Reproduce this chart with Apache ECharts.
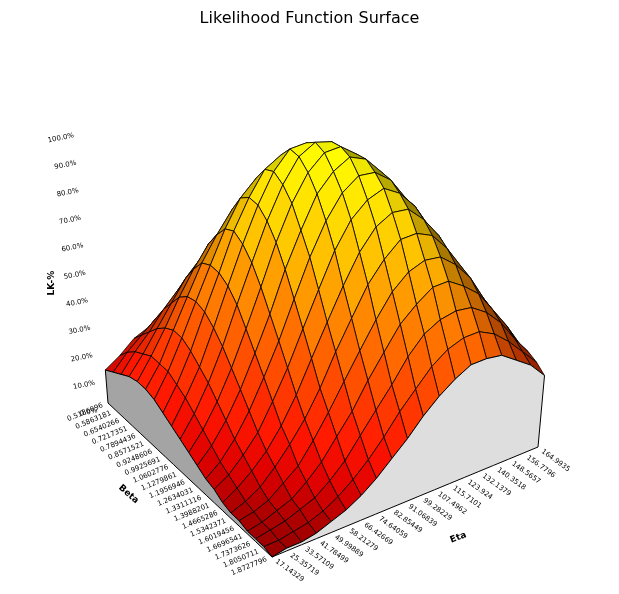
<!DOCTYPE html>
<html>
<head>
<meta charset="utf-8">
<title>Likelihood Function Surface</title>
<script src="https://cdn.jsdelivr.net/npm/echarts@6/dist/echarts.min.js"></script>
<style>
  html, body { margin: 0; padding: 0; background: #ffffff; }
  #chart { width: 619px; height: 594px; }
</style>
</head>
<body>
<div id="chart"></div>
<script>
// tick labels (digits are approximate)
var betaTicks = ['0.5186096', '0.5863181', '0.6540266', '0.7217351', '0.7894436', '0.8571521',
  '0.9248606', '0.9925691', '1.0602776', '1.1279861', '1.1956946', '1.2634031', '1.3311116',
  '1.3988201', '1.4665286', '1.5342371', '1.6019456', '1.6696541', '1.7373626', '1.8050711', '1.8727796'];
var etaTicks = ['17.14329', '25.35719', '33.57109', '41.78499', '49.99889', '58.21279', '66.42669',
  '74.64059', '82.85449', '91.06839', '99.28229', '107.4962', '115.7101', '123.924', '132.1379',
  '140.3518', '148.5657', '156.7796', '164.9935'];
var lkLevels = [0, 10, 20, 30, 40, 50, 60, 70, 80, 90, 100];
var lkTicks = ['0.0%', '10.0%', '20.0%', '30.0%', '40.0%', '50.0%', '60.0%', '70.0%', '80.0%', '90.0%', '100.0%'];

// LK-% : one row per beta tick, one column per eta tick
var likelihood = [
  [12, 15, 19, 21, 23, 24, 24, 23, 20, 17, 14, 11,  8,  5,  4,  2,  1,  1,  0],
  [14, 19, 23, 27, 30, 32, 33, 31, 28, 25, 20, 16, 12,  8,  6,  4,  2,  1,  1],
  [16, 22, 27, 33, 38, 41, 42, 41, 39, 34, 29, 23, 18, 13,  9,  6,  4,  2,  1],
  [18, 24, 31, 38, 45, 50, 52, 52, 50, 45, 39, 32, 25, 18, 13,  9,  5,  3,  2],
  [19, 26, 34, 43, 51, 58, 62, 64, 62, 57, 51, 42, 34, 25, 18, 12,  8,  5,  3],
  [19, 26, 36, 46, 56, 64, 71, 74, 74, 70, 63, 54, 43, 34, 25, 17, 11,  7,  4],
  [18, 26, 36, 47, 58, 69, 78, 83, 84, 81, 75, 65, 54, 43, 32, 23, 15, 10,  6],
  [16, 24, 34, 46, 58, 71, 81, 89, 92, 91, 85, 76, 64, 52, 40, 29, 20, 13,  8],
  [14, 22, 31, 43, 56, 69, 81, 91, 97, 97, 93, 85, 74, 61, 47, 35, 25, 17, 11],
  [12, 19, 28, 39, 52, 65, 78, 89, 97, 100, 98, 91, 81, 68, 54, 41, 30, 20, 13],
  [10, 16, 24, 34, 46, 59, 73, 85, 94, 99, 99, 94, 85, 73, 60, 46, 34, 24, 16],
  [ 8, 13, 20, 29, 40, 52, 66, 78, 89, 95, 98, 95, 88, 77, 64, 51, 38, 27, 19],
  [ 6, 10, 16, 24, 34, 45, 58, 71, 82, 90, 94, 93, 88, 79, 67, 55, 42, 31, 21],
  [ 5,  8, 13, 19, 28, 38, 50, 62, 74, 83, 88, 90, 86, 79, 69, 57, 45, 34, 24],
  [ 3,  6, 10, 15, 22, 31, 42, 53, 64, 74, 81, 84, 83, 77, 69, 58, 47, 36, 26],
  [ 2,  4,  7, 12, 18, 25, 34, 45, 55, 65, 72, 77, 77, 74, 67, 58, 48, 37, 28],
  [ 2,  3,  5,  9, 13, 20, 28, 37, 46, 55, 63, 68, 70, 69, 64, 57, 47, 38, 29],
  [ 1,  2,  4,  6, 10, 15, 22, 29, 38, 46, 54, 59, 63, 63, 59, 54, 46, 38, 29],
  [ 1,  2,  3,  5,  7, 11, 16, 23, 30, 37, 45, 51, 54, 55, 54, 50, 44, 36, 29],
  [ 1,  1,  2,  3,  5,  8, 12, 17, 23, 30, 36, 42, 46, 48, 48, 45, 40, 34, 28],
  [ 0,  1,  1,  2,  4,  6,  9, 13, 18, 23, 29, 34, 38, 41, 41, 40, 36, 32, 26]
];

var nb = betaTicks.length, ne = etaTicks.length;

// view of the box on a 619x594 plane (beta runs to the front, eta to the right)
var view = {
  origin: [108, 403],   // beta min / eta min corner
  beta: [164, 154],     // full beta edge
  eta: [266, -110],     // full eta edge
  zScale: 2.75,         // px per %
  lean: 0.11,           // verticals spread a bit going up
  centerX: 310
};
// same box in world units, for depth sort and light
var world = { beta: 1, eta: 1.0764, z: 1.1855 };
var eye = [0.651, -0.432];
var light = [0.4, -0.5, 0.78];

var heat = [
  [0, [150, 0, 0]], [10, [222, 0, 0]], [20, [255, 22, 0]], [35, [255, 72, 0]],
  [55, [255, 135, 0]], [72, [255, 192, 0]], [88, [255, 232, 0]], [100, [255, 255, 0]]
];

function project(s, t, z) {
  var bx = view.origin[0] + view.beta[0] * s + view.eta[0] * t;
  var by = view.origin[1] + view.beta[1] * s + view.eta[1] * t;
  return [bx + (bx - view.centerX) * view.lean * z / 100, by - view.zScale * z];
}

function gridPoint(api, i, j, z) {
  return api.coord(project(i / (nb - 1), j / (ne - 1), z === undefined ? likelihood[i][j] : z));
}

function worldPoint(i, j) {
  return [i / (nb - 1) * world.beta, j / (ne - 1) * world.eta, likelihood[i][j] / 100 * world.z];
}

function heatColor(z, k) {
  var n = 1;
  while (n < heat.length - 1 && z > heat[n][0]) n++;
  var a = heat[n - 1], b = heat[n];
  var f = Math.max(0, Math.min(1, (z - a[0]) / (b[0] - a[0])));
  var c = [0, 1, 2].map(function (q) {
    return Math.round((a[1][q] + (b[1][q] - a[1][q]) * f) * k);
  });
  return 'rgb(' + c.join(',') + ')';
}

// cells, drawn far to near
var cells = [];
for (var i = 0; i < nb - 1; i++) {
  for (var j = 0; j < ne - 1; j++) {
    var cs = (i + 0.5) / (nb - 1) * world.beta, ct = (j + 0.5) / (ne - 1) * world.eta;
    cells.push({ value: [i, j], depth: eye[0] * cs + eye[1] * ct });
  }
}
cells.sort(function (a, b) { return a.depth - b.depth; });
var cellData = cells.map(function (c) { return c.value; });

function renderCell(params, api) {
  var i = api.value(0), j = api.value(1);
  var p00 = worldPoint(i, j), p10 = worldPoint(i + 1, j), p11 = worldPoint(i + 1, j + 1), p01 = worldPoint(i, j + 1);
  var a = [p11[0] - p00[0], p11[1] - p00[1], p11[2] - p00[2]];
  var b = [p01[0] - p10[0], p01[1] - p10[1], p01[2] - p10[2]];
  var n = [a[1] * b[2] - a[2] * b[1], a[2] * b[0] - a[0] * b[2], a[0] * b[1] - a[1] * b[0]];
  var nl = Math.sqrt(n[0] * n[0] + n[1] * n[1] + n[2] * n[2]);
  var ll = Math.sqrt(light[0] * light[0] + light[1] * light[1] + light[2] * light[2]);
  var dot = (n[0] * light[0] + n[1] * light[1] + n[2] * light[2]) / nl / ll;
  var k = Math.max(0.4, Math.min(1, 0.42 + 0.78 * dot));
  var zAvg = (likelihood[i][j] + likelihood[i + 1][j] + likelihood[i + 1][j + 1] + likelihood[i][j + 1]) / 4;
  return {
    type: 'polygon',
    shape: { points: [gridPoint(api, i, j), gridPoint(api, i + 1, j), gridPoint(api, i + 1, j + 1), gridPoint(api, i, j + 1)] },
    style: { fill: heatColor(zAvg, k), stroke: '#000000', lineWidth: 0.8 }
  };
}

function renderWall(params, api) {
  var side = api.value(0);
  var pts = [];
  if (side === 0) {
    // eta min face
    for (var i = 0; i < nb; i++) pts.push(gridPoint(api, i, 0, 0));
    for (var i2 = nb - 1; i2 >= 0; i2--) pts.push(gridPoint(api, i2, 0));
  } else {
    // beta max face
    for (var j = 0; j < ne; j++) pts.push(gridPoint(api, nb - 1, j, 0));
    for (var j2 = ne - 1; j2 >= 0; j2--) pts.push(gridPoint(api, nb - 1, j2));
  }
  return {
    type: 'polygon',
    shape: { points: pts },
    style: { fill: side === 0 ? '#a4a4a4' : '#dedede', stroke: '#000000', lineWidth: 1 }
  };
}

var tickFont = 'DejaVu Sans';

function renderBetaTick(params, api) {
  var i = api.value(0);
  var p = api.coord(project(i / (nb - 1), -0.02, 0));
  return {
    type: 'text', x: p[0], y: p[1], rotation: 0.39,
    style: { text: betaTicks[i], fontSize: 7, fontFamily: tickFont, fill: '#000', align: 'right', verticalAlign: 'middle' }
  };
}

function renderEtaTick(params, api) {
  var j = api.value(0);
  var p = api.coord(project(1.025, j / (ne - 1), 0));
  return {
    type: 'text', x: p[0], y: p[1], rotation: -0.62,
    style: { text: etaTicks[j], fontSize: 7, fontFamily: tickFont, fill: '#000', align: 'left', verticalAlign: 'middle' }
  };
}

function renderLkTick(params, api) {
  var k = api.value(0);
  var p = api.coord(project(0, -0.04, lkLevels[k]));
  return {
    type: 'text', x: p[0], y: p[1] + 3, rotation: 0.2,
    style: { text: lkTicks[k], fontSize: 7, fontFamily: tickFont, fill: '#000', align: 'right', verticalAlign: 'middle' }
  };
}

var axisNames = [
  { text: 'Beta', at: [0.45, -0.2, 0], rotation: -0.72 },
  { text: 'Eta', at: [1.26, 0.54, 0], rotation: 0.36 },
  { text: 'LK-%', at: [0, -0.16, 50], rotation: Math.PI / 2 }
];

function renderAxisName(params, api) {
  var a = axisNames[api.value(0)];
  var p = api.coord(project(a.at[0], a.at[1], a.at[2]));
  return {
    type: 'text', x: p[0], y: p[1], rotation: a.rotation,
    style: { text: a.text, fontSize: 9, fontWeight: 'bold', fontFamily: tickFont, fill: '#000', align: 'center', verticalAlign: 'middle' }
  };
}

function indexData(n) {
  var d = [];
  for (var q = 0; q < n; q++) d.push([q, 0]);
  return d;
}

var chart = echarts.init(document.getElementById('chart'), null, { renderer: 'canvas' });

chart.setOption({
  backgroundColor: '#ffffff',
  animation: false,
  title: {
    text: 'Likelihood Function Surface',
    left: 'center',
    top: 6,
    textStyle: { fontFamily: 'DejaVu Sans', fontSize: 16, fontWeight: 'normal', color: '#000000' }
  },
  grid: { left: 0, right: 0, top: 0, bottom: 0 },
  xAxis: { type: 'value', min: 0, max: 619, show: false },
  yAxis: { type: 'value', min: 0, max: 594, inverse: true, show: false },
  series: [
    { type: 'custom', name: 'surface', renderItem: renderCell, data: cellData, clip: false, z: 2, silent: true },
    { type: 'custom', name: 'walls', renderItem: renderWall, data: indexData(2), clip: false, z: 3, silent: true },
    { type: 'custom', name: 'beta', renderItem: renderBetaTick, data: indexData(nb), clip: false, z: 4, silent: true },
    { type: 'custom', name: 'eta', renderItem: renderEtaTick, data: indexData(ne), clip: false, z: 4, silent: true },
    { type: 'custom', name: 'lk', renderItem: renderLkTick, data: indexData(lkLevels.length), clip: false, z: 4, silent: true },
    { type: 'custom', name: 'names', renderItem: renderAxisName, data: indexData(axisNames.length), clip: false, z: 4, silent: true }
  ]
});
</script>
</body>
</html>
